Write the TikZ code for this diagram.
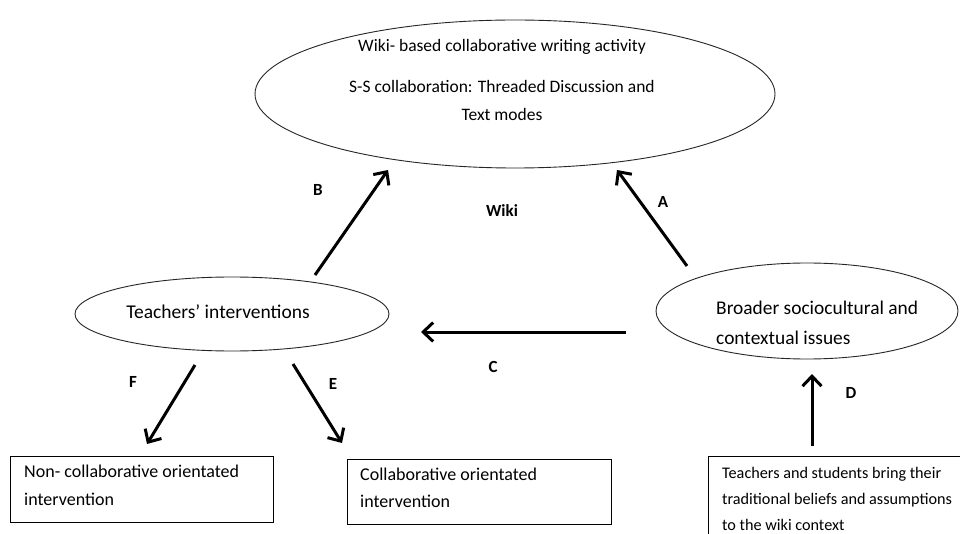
\documentclass[tikz,border=0pt]{standalone}
\usepackage{fontspec}
\setmainfont{Carlito}
\usetikzlibrary{arrows.meta,shapes.geometric}
\begin{document}
\begin{tikzpicture}[x=1pt,y=-1pt,
  bubble/.style={draw=black!85, line width=0.9pt, ellipse, inner sep=0pt},
  panel/.style={draw=black, line width=1.1pt, rectangle, inner sep=0pt, anchor=north west},
  flow/.style={line width=3pt, -{Straight Barb[length=10pt,width=19pt]}},
  txt/.style={anchor=base west, inner sep=0pt},
  ctxt/.style={anchor=base, inner sep=0pt},
  tag/.style={font=\fontsize{17}{17}\selectfont\bfseries, inner sep=0pt}]
\useasboundingbox (0,0) rectangle (960,534);
\fill[white] (0,0) rectangle (960,534);
\clip (0,0) rectangle (960,534);

% ellipses
\node[bubble, minimum width=520pt, minimum height=148pt] (act) at (515,94) {};
\node[bubble, minimum width=314pt, minimum height=74pt] (teach) at (232,314) {};
\node[bubble, minimum width=302pt, minimum height=96pt] (ctx) at (807,311) {};

% ellipse texts
\begin{scope}[font=\fontsize{17.5}{21}\selectfont]
  \node[ctxt] (act1) at (502,52) {Wiki- based collaborative writing activity};
  \node[ctxt] (act2) at (502,93) {S-S collaboration: Threaded Discussion and};
  \node[ctxt] (act3) at (502,121) {Text modes};
\end{scope}
\node[ctxt, font=\fontsize{19.5}{23}\selectfont] (teach1) at (218,319) {Teachers’ interventions};
\begin{scope}[font=\fontsize{19.4}{23}\selectfont]
  \node[txt] (ctx1) at (716,314) {Broader sociocultural and};
  \node[txt] (ctx2) at (716,344) {contextual issues};
\end{scope}

% boxes
\node[panel, minimum width=263pt, minimum height=66pt] (noncol) at (10,456) {};
\node[panel, minimum width=264pt, minimum height=65pt] (col) at (347,459) {};
\node[panel, minimum width=300pt, minimum height=120pt] (bel) at (708,456) {};

\begin{scope}[font=\fontsize{18}{22}\selectfont]
  \node[txt] (nc1) at (24,477) {Non- collaborative orientated};
  \node[txt] (nc2) at (24,505) {intervention};
  \node[txt] (c1) at (360,480) {Collaborative orientated};
  \node[txt] (c2) at (360,507) {intervention};
\end{scope}
\begin{scope}[font=\fontsize{16.2}{20}\selectfont]
  \node[txt] (b1) at (722,478) {Teachers and students bring their};
  \node[txt] (b2) at (722,504) {traditional beliefs and assumptions};
  \node[txt] (b3) at (722,530) {to the wiki context};
\end{scope}

% arrow end points
\coordinate (aS) at (687,266);  \coordinate (aE) at (617,170);
\coordinate (bS) at (315,275);  \coordinate (bE) at (388,170);
\coordinate (cS) at (626,332);  \coordinate (cE) at (421,332);
\coordinate (dS) at (812,446);  \coordinate (dE) at (812,374);
\coordinate (eS) at (293,364);  \coordinate (eE) at (342,443);
\coordinate (fS) at (195,365);  \coordinate (fE) at (147,444);

\draw[flow] (aS) -- (aE);
\draw[flow] (bS) -- (bE);
\draw[flow] (cS) -- (cE);
\draw[flow] (dS) -- (dE);
\draw[flow] (eS) -- (eE);
\draw[flow] (fS) -- (fE);

% labels
\node[tag] (la) at (663,202) {A};
\node[tag] (lb) at (318,190) {B};
\node[tag] (lc) at (493,367) {C};
\node[tag] (ld) at (851,393) {D};
\node[tag] (le) at (333,384) {E};
\node[tag] (lf) at (133,382) {F};
\node[tag] (wiki) at (502,211) {Wiki};
\end{tikzpicture}
\end{document}
